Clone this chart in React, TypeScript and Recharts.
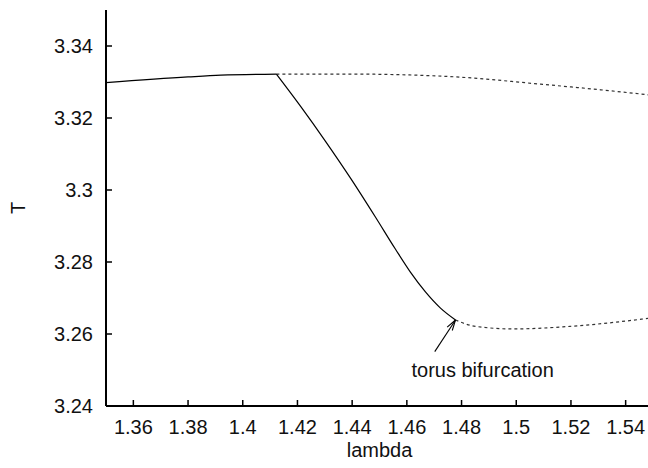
import { LineChart, Line, XAxis, YAxis, ReferenceLine, ReferenceDot } from "recharts";

// stable periodic branch before the fold
const upperStableLambda = [1.35, 1.38, 1.392, 1.4123];
const upperStableT = [3.3298, 3.3314, 3.3319, 3.3322];

// unstable continuation of the upper branch
const upperUnstableLambda = [1.4123, 1.4394, 1.476, 1.5089, 1.53, 1.55];
const upperUnstableT = [3.3322, 3.3322, 3.3315, 3.3294, 3.3279, 3.3263];

// stable lower branch down to the torus bifurcation
const lowerStableLambda = [1.4123, 1.4211, 1.4302, 1.4394, 1.4485, 1.4558, 1.4613, 1.4668, 1.4723, 1.4778];
const lowerStableT = [3.3322, 3.3233, 3.3136, 3.3033, 3.2925, 3.2836, 3.2772, 3.2717, 3.2672, 3.2639];

// unstable lower branch after the torus bifurcation
const lowerUnstableLambda = [1.4778, 1.4845, 1.4986, 1.5211, 1.55];
const lowerUnstableT = [3.2639, 3.2622, 3.2614, 3.2622, 3.2645];

const xTicks = [1.36, 1.38, 1.4, 1.42, 1.44, 1.46, 1.48, 1.5, 1.52, 1.54];
const yTicks = [3.24, 3.26, 3.28, 3.3, 3.32, 3.34];

const arrowTail = { lambda: 1.4702, T: 3.2551 };
const arrowHead = { lambda: 1.4778, T: 3.2639 };
const annotation = { lambda: 1.4877, T: 3.25, text: "torus bifurcation" };

const toPoints = (xs: number[], ys: number[]) => xs.map((x, i) => ({ lambda: x, T: ys[i] }));

const FONT = "'Liberation Sans', Arial, Helvetica, sans-serif";
const TXT = "#111";

const BottomTick = ({ x, y, payload }: any) => (
  <g>
    <line x1={x} x2={x} y1={y} y2={y - 6} stroke="#000" strokeWidth={1.5} />
    <text x={x} y={y + 28} textAnchor="middle" fontSize={20} fontFamily={FONT} fill={TXT}>
      {String(payload.value)}
    </text>
  </g>
);

const TopTick = ({ x, y }: any) => (
  <line x1={x} x2={x} y1={y} y2={y + 6} stroke="#000" strokeWidth={1.5} />
);

const LeftTick = ({ x, y, payload }: any) => (
  <g>
    <line x1={x} x2={x + 6} y1={y} y2={y} stroke="#000" strokeWidth={1.5} />
    <text x={x - 13} y={y} textAnchor="end" dominantBaseline="central" fontSize={20} fontFamily={FONT} fill={TXT}>
      {String(payload.value)}
    </text>
  </g>
);

const RightTick = ({ x, y }: any) => (
  <line x1={x} x2={x - 6} y1={y} y2={y} stroke="#000" strokeWidth={1.5} />
);

const Arrow = (p: any) => {
  const { x1, y1, x2, y2 } = p;
  const ang = Math.atan2(y2 - y1, x2 - x1);
  const len = 11;
  const spread = 0.28;
  const a1 = ang + Math.PI - spread;
  const a2 = ang + Math.PI + spread;
  return (
    <g stroke="#000" strokeWidth={1.1} fill="none">
      <line x1={x1} y1={y1} x2={x2} y2={y2} />
      <line x1={x2} y1={y2} x2={x2 + len * Math.cos(a1)} y2={y2 + len * Math.sin(a1)} />
      <line x1={x2} y1={y2} x2={x2 + len * Math.cos(a2)} y2={y2 + len * Math.sin(a2)} />
    </g>
  );
};

export default function App() {
  return (
    <div style={{ position: "absolute", left: 0, top: 0, width: 648, height: 468, overflow: "hidden", background: "#fff" }}>
      <LineChart width={660} height={468} margin={{ top: 10, right: 7, left: 0, bottom: 0 }}>
        <XAxis
          type="number"
          dataKey="lambda"
          domain={[1.35, 1.55]}
          ticks={xTicks}
          interval={0}
          allowDataOverflow
          height={62}
          tickSize={0}
          tickMargin={0}
          axisLine={{ stroke: "#000", strokeWidth: 2 }}
          tickLine={false}
          tick={<BottomTick />}
          label={{ value: "lambda", position: "insideBottom", offset: 11, fontSize: 20, fontFamily: FONT, fill: TXT }}
        />
        <XAxis
          xAxisId="top"
          orientation="top"
          type="number"
          dataKey="lambda"
          domain={[1.35, 1.55]}
          ticks={xTicks}
          interval={0}
          allowDataOverflow
          height={0}
          tickSize={0}
          tickMargin={0}
          axisLine={{ stroke: "#000", strokeWidth: 2 }}
          tickLine={false}
          tick={<TopTick />}
        />
        <YAxis
          type="number"
          domain={[3.24, 3.35]}
          ticks={yTicks}
          interval={0}
          allowDataOverflow
          width={106}
          tickSize={0}
          tickMargin={0}
          axisLine={{ stroke: "#000", strokeWidth: 2 }}
          tickLine={false}
          tick={<LeftTick />}
          label={{
            content: ({ viewBox }: any) => (
              <text
                x={18}
                y={viewBox.y + viewBox.height / 2}
                transform={`rotate(-90 18 ${viewBox.y + viewBox.height / 2})`}
                textAnchor="middle"
                dominantBaseline="central"
                fontSize={20}
                fontFamily={FONT}
                fill={TXT}
              >
                T
              </text>
            ),
          }}
        />
        <YAxis
          yAxisId="right"
          orientation="right"
          type="number"
          domain={[3.24, 3.35]}
          ticks={yTicks}
          interval={0}
          allowDataOverflow
          width={0}
          tickSize={0}
          tickMargin={0}
          axisLine={{ stroke: "#000", strokeWidth: 2 }}
          tickLine={false}
          tick={<RightTick />}
        />
        <Line
          data={toPoints(upperStableLambda, upperStableT)}
          dataKey="T"
          type="monotone"
          stroke="#000"
          strokeWidth={1.2}
          dot={false}
          isAnimationActive={false}
        />
        <Line
          data={toPoints(upperUnstableLambda, upperUnstableT)}
          dataKey="T"
          type="monotone"
          stroke="#333"
          strokeWidth={1.2}
          strokeDasharray="3 3"
          dot={false}
          isAnimationActive={false}
        />
        <Line
          data={toPoints(lowerStableLambda, lowerStableT)}
          dataKey="T"
          type="monotone"
          stroke="#000"
          strokeWidth={1.2}
          dot={false}
          isAnimationActive={false}
        />
        <Line
          data={toPoints(lowerUnstableLambda, lowerUnstableT)}
          dataKey="T"
          type="monotone"
          stroke="#333"
          strokeWidth={1.2}
          strokeDasharray="3 3"
          dot={false}
          isAnimationActive={false}
        />
        <ReferenceLine
          segment={[
            { x: arrowTail.lambda, y: arrowTail.T },
            { x: arrowHead.lambda, y: arrowHead.T },
          ]}
          ifOverflow="visible"
          shape={Arrow}
        />
        <ReferenceDot
          x={annotation.lambda}
          y={annotation.T}
          r={0}
          ifOverflow="visible"
          shape={(p: any) => (
            <text
              x={p.cx}
              y={p.cy}
              textAnchor="middle"
              dominantBaseline="central"
              fontSize={20}
              fontFamily={FONT}
              fill={TXT}
            >
              {annotation.text}
            </text>
          )}
        />
      </LineChart>
    </div>
  );
}
